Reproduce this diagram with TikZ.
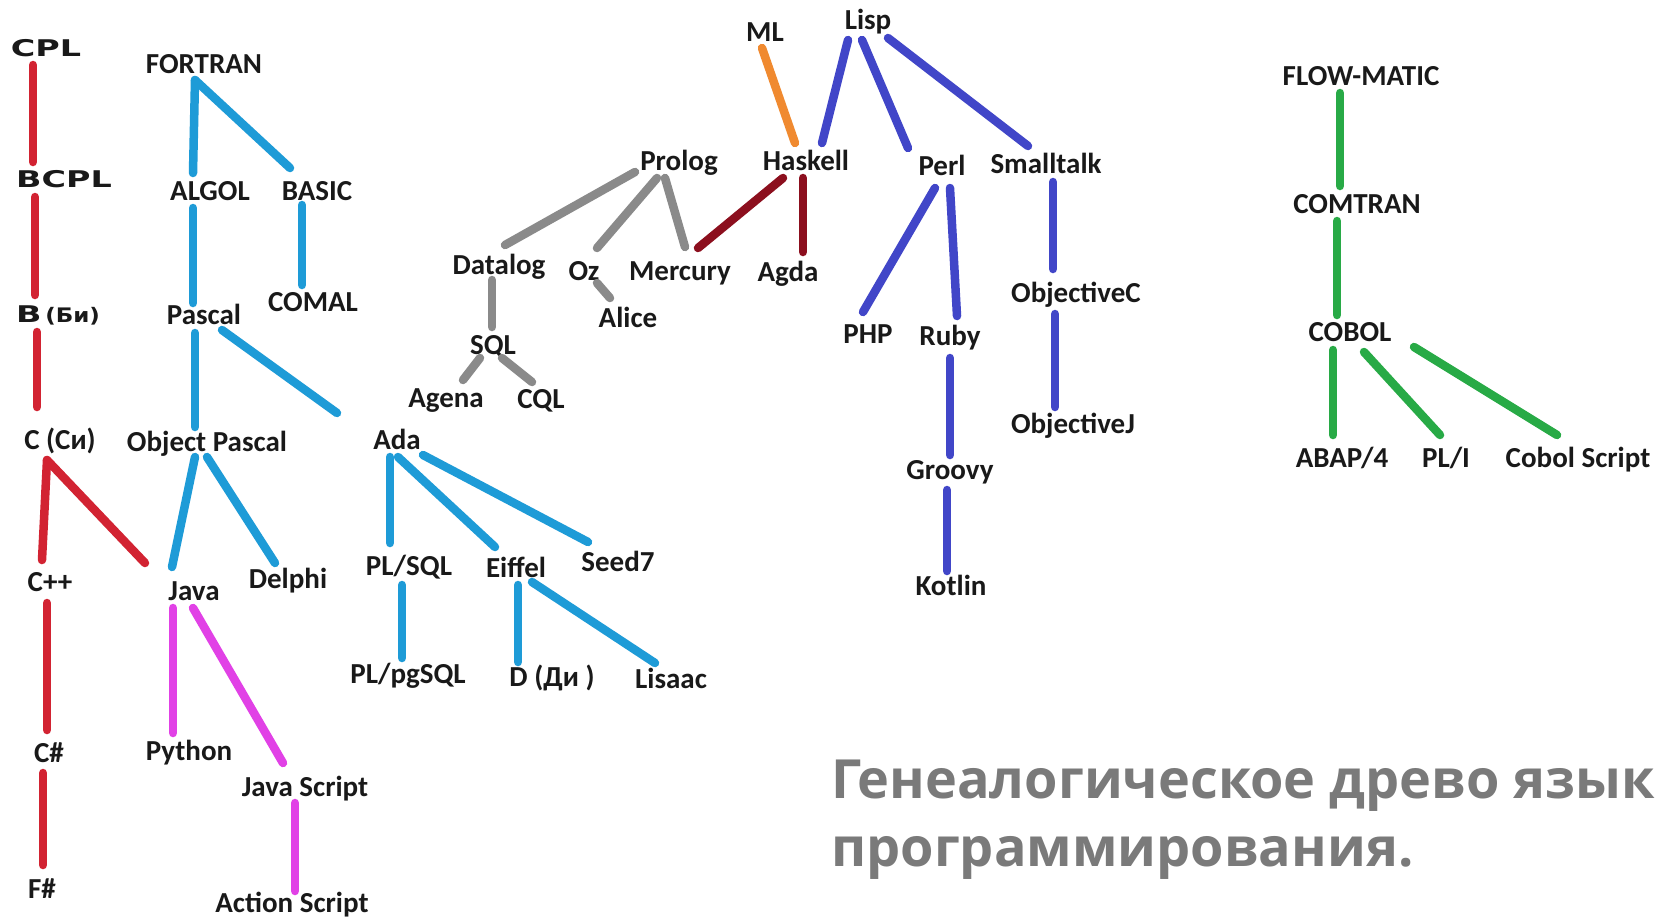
\documentclass[tikz,border=0pt]{standalone}
\usepackage{fontspec}
\usepackage{graphicx}
\setmainfont{Carlito}
\newfontfamily\cplfont{DejaVu Sans}
\newfontfamily\titlefont{Open Sans}
\definecolor{cred}{RGB}{210,35,50}
\definecolor{cblue}{RGB}{30,155,215}
\definecolor{cmag}{RGB}{225,65,230}
\definecolor{cgray}{RGB}{138,138,138}
\definecolor{corange}{RGB}{240,138,48}
\definecolor{cdred}{RGB}{140,15,30}
\definecolor{cind}{RGB}{65,70,200}
\definecolor{cgreen}{RGB}{40,170,70}
\definecolor{ctitle}{RGB}{122,122,122}
\tikzset{
  lbl/.style={inner sep=0pt, text height=18pt, text depth=0pt, font=\fontsize{29}{31}\selectfont\bfseries, text=black!90},
  cpl/.style={inner sep=0pt, text height=18pt, text depth=0pt, font=\fontsize{23}{26}\selectfont\cplfont\bfseries, text=black!90},
  tree/.style={line width=8.5pt, line cap=round},
  titletxt/.style={inner sep=0pt, anchor=base west, font=\fontsize{54}{60}\selectfont\titlefont\bfseries, text=ctitle}
}
\newcommand\treelink[5]{\draw[tree,#1] ([shift={(#3)}]#2.center) -- ([shift={(#5)}]#4.center);}
\begin{document}
\begin{tikzpicture}[x=1pt,y=-1pt]
\fill[white] (0,0) rectangle (1664,919);
\useasboundingbox (0,0) rectangle (1664,919);
% ---- red tree
\node[cpl] (cpl) at (46,47) {\scalebox{1.45}[1]{CPL}};
\node[cpl] (bcpl) at (64,178) {\scalebox{1.45}[1]{BCPL}};
\node[cpl] (b) at (58,313) {\scalebox{1.45}[1]{B}\,{\fontsize{20}{22}\selectfont\scalebox{1.15}[1]{(Би)}}};
\node[lbl] (c) at (60,440) {C (Си)};
\node[lbl] (cpp) at (50,582) {C++};
\node[lbl] (cs) at (49,753) {C\#};
\node[lbl] (fs) at (42,889) {F\#};
% ---- blue tree
\node[lbl] (fortran) at (204,64) {FORTRAN};
\node[lbl] (algol) at (210,191) {ALGOL};
\node[lbl] (basic) at (317,191) {BASIC};
\node[lbl] (comal) at (313,302) {COMAL};
\node[lbl] (pascal) at (204,315) {Pascal};
\node[lbl] (objpascal) at (207,442) {Object Pascal};
\node[lbl] (ada) at (397,440) {Ada};
\node[lbl] (java) at (194,591) {Java};
\node[lbl] (delphi) at (288,579) {Delphi};
\node[lbl] (plsql) at (409,566) {PL/SQL};
\node[lbl] (eiffel) at (516,568) {Eiffel};
\node[lbl] (seed) at (618,562) {Seed7};
\node[lbl] (plpgsql) at (408,674) {PL/pgSQL};
\node[lbl] (d) at (552,677) {D (Ди )};
\node[lbl] (lisaac) at (671,679) {Lisaac};
% ---- magenta
\node[lbl] (python) at (189,751) {Python};
\node[lbl] (js) at (305,787) {Java Script};
\node[lbl] (as) at (292,903) {Action Script};
% ---- gray / prolog
\node[lbl] (prolog) at (679,161) {Prolog};
\node[lbl] (datalog) at (499,265) {Datalog};
\node[lbl] (oz) at (584,271) {Oz};
\node[lbl] (mercury) at (680,271) {Mercury};
\node[lbl] (alice) at (628,318) {Alice};
\node[lbl] (sql) at (493,345) {SQL};
\node[lbl] (agena) at (446,398) {Agena};
\node[lbl] (cql) at (541,399) {CQL};
% ---- ML / Haskell
\node[lbl] (ml) at (765,32) {ML};
\node[lbl] (haskell) at (806,161) {Haskell};
\node[lbl] (agda) at (788,272) {Agda};
% ---- Lisp tree
\node[lbl] (lisp) at (868,20) {Lisp};
\node[lbl] (perl) at (942,166) {Perl};
\node[lbl] (smalltalk) at (1046,164) {Smalltalk};
\node[lbl] (php) at (868,334) {PHP};
\node[lbl] (ruby) at (950,336) {Ruby};
\node[lbl] (objc) at (1076,293) {ObjectiveC};
\node[lbl] (objj) at (1073,424) {ObjectiveJ};
\node[lbl] (groovy) at (950,470) {Groovy};
\node[lbl] (kotlin) at (951,586) {Kotlin};
% ---- COBOL tree
\node[lbl] (flow) at (1361,76) {FLOW-MATIC};
\node[lbl] (comtran) at (1357,204) {COMTRAN};
\node[lbl] (cobol) at (1350,332) {COBOL};
\node[lbl] (abap) at (1342,458) {ABAP/4};
\node[lbl] (pli) at (1446,458) {PL/I};
\node[lbl] (cscript) at (1578,458) {Cobol Script};
% ---- connectors: red
\treelink{cred}{cpl}{-13,18}{bcpl}{-31,-16}
\treelink{cred}{bcpl}{-29,19}{b}{-23,-18}
\treelink{cred}{b}{-21,19}{c}{-23,-33}
\treelink{cred}{c}{-13,20}{cpp}{-8,-22}
\treelink{cred}{c}{-13,20}{java}{-49,-28}
\treelink{cred}{cpp}{-3,21}{cs}{-2,-23}
\treelink{cred}{cs}{-6,20}{fs}{1,-24}
% blue
\treelink{cblue}{fortran}{-9,16}{algol}{-17,-18}
\treelink{cblue}{fortran}{-9,16}{basic}{-27,-23}
\treelink{cblue}{algol}{-17,17}{pascal}{-11,-12}
\treelink{cblue}{basic}{-15,14}{comal}{-11,-17}
\treelink{cblue}{pascal}{-9,18}{objpascal}{-12,-15}
\treelink{cblue}{pascal}{18,15}{ada}{-60,-27}
\treelink{cblue}{objpascal}{-12,15}{java}{-22,-24}
\treelink{cblue}{objpascal}{0,15}{delphi}{-13,-16}
\treelink{cblue}{ada}{-7,17}{plsql}{-19,-23}
\treelink{cblue}{ada}{1,17}{eiffel}{-21,-21}
\treelink{cblue}{ada}{26,15}{seed}{-30,-20}
\treelink{cblue}{plsql}{-7,19}{plpgsql}{-6,-16}
\treelink{cblue}{eiffel}{2,17}{d}{-34,-15}
\treelink{cblue}{eiffel}{16,14}{lisaac}{-16,-16}
% magenta
\treelink{cmag}{java}{-21,17}{python}{-16,-18}
\treelink{cmag}{java}{-1,17}{js}{-22,-24}
\treelink{cmag}{js}{-10,16}{as}{3,-12}
% gray
\treelink{cgray}{prolog}{-44,11}{datalog}{6,-20}
\treelink{cgray}{prolog}{-22,17}{oz}{13,-23}
\treelink{cgray}{prolog}{-14,17}{mercury}{5,-24}
\treelink{cgray}{oz}{13,12}{alice}{-18,-20}
\treelink{cgray}{datalog}{-7,15}{sql}{-1,-18}
\treelink{cgray}{sql}{-13,13}{agena}{17,-18}
\treelink{cgray}{sql}{9,13}{cql}{-9,-17}
% orange / dark red
\treelink{corange}{ml}{-3,16}{haskell}{-11,-18}
\treelink{cdred}{haskell}{-23,17}{mercury}{18,-23}
\treelink{cdred}{haskell}{-3,17}{agda}{15,-20}
% indigo
\treelink{cind}{lisp}{-20,20}{haskell}{16,-18}
\treelink{cind}{lisp}{-6,20}{perl}{-34,-18}
\treelink{cind}{lisp}{20,18}{smalltalk}{-18,-18}
\treelink{cind}{perl}{-7,22}{php}{-5,-22}
\treelink{cind}{perl}{8,22}{ruby}{7,-20}
\treelink{cind}{smalltalk}{7,18}{objc}{-23,-24}
\treelink{cind}{objc}{-21,21}{objj}{-18,-17}
\treelink{cind}{ruby}{0,22}{groovy}{0,-15}
\treelink{cind}{groovy}{-3,20}{kotlin}{-4,-15}
% green
\treelink{cgreen}{flow}{-21,17}{comtran}{-17,-18}
\treelink{cgreen}{comtran}{-20,17}{cobol}{-13,-17}
\treelink{cgreen}{cobol}{-17,18}{abap}{-9,-23}
\treelink{cgreen}{cobol}{14,20}{pli}{-6,-23}
\treelink{cgreen}{cobol}{64,15}{cscript}{-21,-23}
% ---- title
\node[titletxt] (title1) at (831,798) {Генеалогическое древо язык};
\node[titletxt] (title2) at (831,866) {программирования.};
\end{tikzpicture}
\end{document}
